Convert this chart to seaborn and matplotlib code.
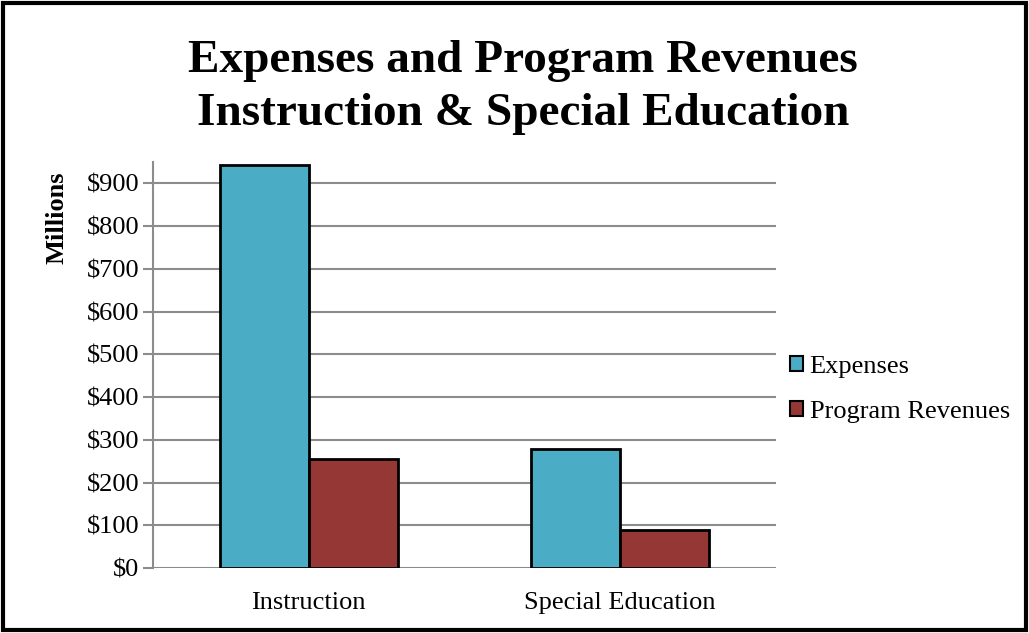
import pandas as pd
import matplotlib.pyplot as plt
import seaborn as sns
from matplotlib.patches import Rectangle
from matplotlib.ticker import FuncFormatter

# Chart values (millions of dollars)
categories = ['Instruction', 'Special Education']
expenses = [943, 278]
program_revenues = [255, 88]
series_names = ['Expenses', 'Program Revenues']
colors = ['#4BACC6', '#953735']

df = pd.DataFrame({
    'Category': categories * 2,
    'Series': [series_names[0]] * 2 + [series_names[1]] * 2,
    'Value': expenses + program_revenues,
})

sns.set_theme(style='white')
plt.rcParams['font.family'] = ['Liberation Serif', 'DejaVu Serif']
plt.rcParams['text.color'] = 'black'
plt.rcParams['xtick.color'] = 'black'
plt.rcParams['ytick.color'] = 'black'
plt.rcParams['axes.labelcolor'] = 'black'

fig = plt.figure(figsize=(10.29, 6.33), dpi=100)
ax = fig.add_axes([0.1487, 0.1027, 0.6054, 0.6413])

sns.barplot(data=df, x='Category', y='Value', hue='Series', palette=colors,
            saturation=1, width=0.57, edgecolor='black', linewidth=2,
            ax=ax, zorder=3)

ax.set_xlim(-0.5, 1.5)
ax.set_ylim(0, 950)
ax.set_yticks(range(0, 1000, 100))
ax.yaxis.set_major_formatter(FuncFormatter(lambda v, p: f'${int(v)}'))
ax.yaxis.grid(True, color='#8c8c8c', linewidth=1.5, zorder=0)
ax.set_axisbelow(True)
ax.tick_params(axis='y', which='major', left=True, length=7, width=1.5,
               color='#8c8c8c', labelsize=19, pad=3)
ax.tick_params(axis='x', bottom=False, labelsize=19, pad=11)
for side in ['top', 'right', 'bottom']:
    ax.spines[side].set_visible(False)
ax.spines['left'].set_color('#8c8c8c')
ax.spines['left'].set_linewidth(1.5)

ax.set_xlabel('')
ax.set_ylabel('Millions', fontsize=19, fontweight='bold')
ax.yaxis.set_label_coords(-0.136, 0.862)

leg = ax.legend(loc='center left', bbox_to_anchor=(0.984, 0.44), frameon=False,
                fontsize=19, handlelength=0.5, handleheight=0.5,
                handletextpad=0.25, labelspacing=0.85)
for h in leg.legend_handles:
    h.set_edgecolor('black')
    h.set_linewidth(1.5)

fig.text(0.508, 0.862, 'Expenses and Program Revenues\nInstruction & Special Education',
         ha='center', va='center', fontsize=34, fontweight='bold',
         linespacing=1.33)

# black frame around the whole chart
fig.patches.append(Rectangle((0.003, 0.004), 0.994, 0.992, transform=fig.transFigure,
                             fill=False, edgecolor='black', linewidth=3))

fig.savefig('out.png', dpi=100)
